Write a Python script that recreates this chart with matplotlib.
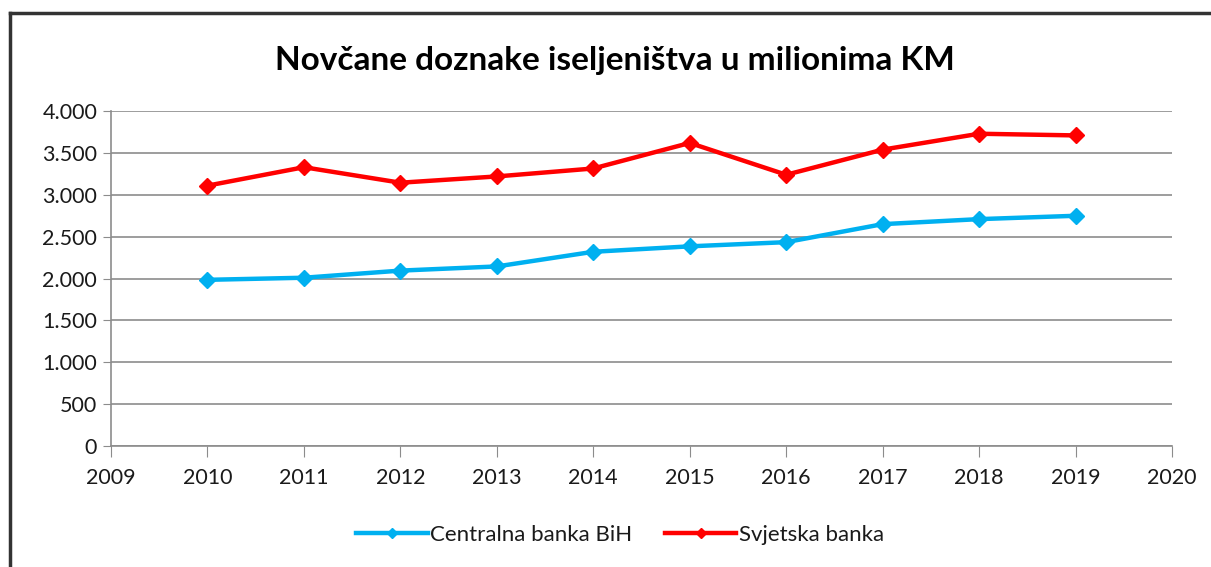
import matplotlib.pyplot as plt
from matplotlib.ticker import FuncFormatter
from matplotlib.lines import Line2D

years = [2010, 2011, 2012, 2013, 2014, 2015, 2016, 2017, 2018, 2019]
centralna_banka = [1985, 2010, 2095, 2145, 2320, 2385, 2435, 2650, 2710, 2750]
svjetska_banka = [3110, 3330, 3145, 3220, 3315, 3620, 3240, 3540, 3730, 3710]

plt.rcParams['font.family'] = ['Lato', 'DejaVu Sans']
plt.rcParams['text.color'] = '#1a1a1a'

fig = plt.figure(figsize=(12.11, 5.67), dpi=100)
ax = fig.add_axes([0.0917, 0.2134, 0.8761, 0.5906])

ax.plot(years, centralna_banka, color='#00b0f0', lw=3.2, marker='D', ms=8,
        label='Centralna banka BiH')
ax.plot(years, svjetska_banka, color='#ff0000', lw=3.2, marker='D', ms=8,
        label='Svjetska banka')

ax.set_xlim(2009, 2020)
ax.set_ylim(0, 4000)
ax.set_xticks(range(2009, 2021))
ax.set_yticks(range(0, 4001, 500))
ax.yaxis.set_major_formatter(FuncFormatter(lambda v, p: f'{int(v):,}'.replace(',', '.')))

ax.grid(axis='y', color='#8c8c8c', lw=1.2)
ax.set_axisbelow(True)
for s in ['top', 'right']:
    ax.spines[s].set_visible(False)
for s in ['left', 'bottom']:
    ax.spines[s].set_color('#8c8c8c')
    ax.spines[s].set_linewidth(1.2)
ax.tick_params(axis='x', length=8, color='#8c8c8c', labelsize=15.5, pad=8,
               labelcolor='#1a1a1a')
ax.tick_params(axis='y', length=6, color='#8c8c8c', labelsize=15.5, pad=4,
               labelcolor='#1a1a1a')

fig.text(0.508, 0.893, 'Novčane doznake iseljeništva u milionima KM',
         ha='center', va='center', fontsize=24, fontweight='bold', color='black')

handles = [Line2D([], [], color='#00b0f0', lw=3.2, marker='D', ms=5.5),
           Line2D([], [], color='#ff0000', lw=3.2, marker='D', ms=5.5)]
fig.legend(handles, ['Centralna banka BiH', 'Svjetska banka'], loc='center',
           bbox_to_anchor=(0.512, 0.057), ncol=2, frameon=False, fontsize=16,
           handlelength=3.2, handletextpad=0.1, columnspacing=1.5)

# outer frame around the chart
fig.add_artist(Line2D([10 / 1211, 1], [1 - 13 / 567] * 2, color='#333333', lw=2.5,
                      transform=fig.transFigure))
fig.add_artist(Line2D([10 / 1211] * 2, [0, 1 - 13 / 567], color='#333333', lw=2.5,
                      transform=fig.transFigure))

fig.savefig('out.png', dpi=100)
